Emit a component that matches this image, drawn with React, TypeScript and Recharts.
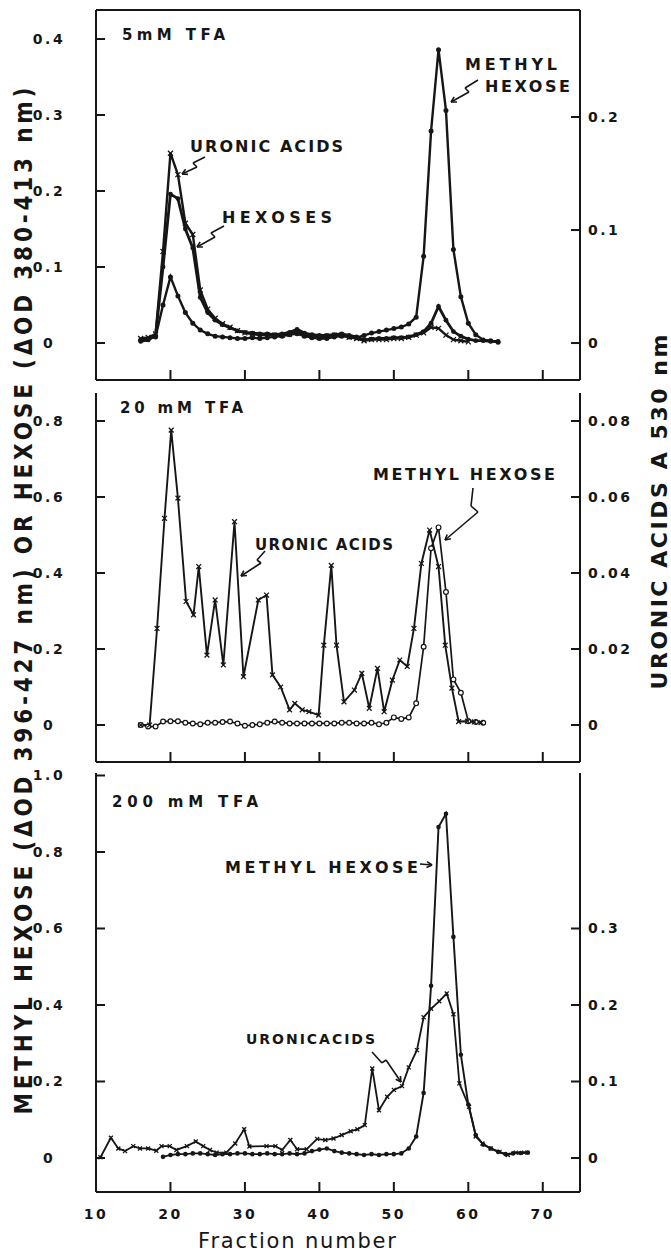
import React from 'react'
import { LineChart, Line, XAxis, YAxis, ReferenceLine } from 'recharts'

const INK = '#161616'
const FONT = '"DejaVu Sans", "Liberation Sans", sans-serif'
const FONT_COND = '"DejaVu Sans Condensed", "DejaVu Sans", sans-serif'

// shared fraction axis
const fractionDomain: [number, number] = [10, 75]
const fractionTicks = [20, 30, 40, 50, 60, 70]
const fractionTicksLabelled = [10, 20, 30, 40, 50, 60, 70]

// ---- panel 1 : 5 mM TFA (left: hexose OD, right: uronic acids A530)
const p1Fractions = [16, 17, 18, 19, 20, 21, 22, 23, 24, 25, 26, 27, 28, 29, 30, 31, 32, 33, 34, 35, 36, 37, 38, 39, 40, 41, 42, 43, 44, 45, 46, 47, 48, 49, 50, 51, 52, 53, 54, 55, 56, 57, 58, 59, 60, 61, 62, 63, 64]
const p1MethylHexose = [0.004, 0.005, 0.008, 0.05, 0.087, 0.062, 0.04, 0.026, 0.017, 0.012, 0.009, 0.008, 0.007, 0.006, 0.006, 0.007, 0.006, 0.007, 0.008, 0.009, 0.011, 0.012, 0.009, 0.007, 0.006, 0.006, 0.008, 0.009, 0.008, 0.007, 0.01, 0.013, 0.015, 0.017, 0.019, 0.021, 0.025, 0.034, 0.114, 0.279, 0.386, 0.306, 0.123, 0.061, 0.026, 0.011, 0.004, 0.003, 0.001]
const p1Hexoses = [0.002, 0.004, 0.01, 0.1, 0.196, 0.19, 0.15, 0.125, 0.06, 0.04, 0.03, 0.024, 0.02, 0.016, 0.014, 0.013, 0.012, 0.012, 0.011, 0.012, 0.014, 0.018, 0.013, 0.011, 0.01, 0.01, 0.011, 0.012, 0.01, 0.008, 0.004, 0.005, 0.006, 0.006, 0.007, 0.007, 0.008, 0.011, 0.015, 0.026, 0.048, 0.03, 0.015, 0.009, 0.005, 0.003, 0.003, 0.002, 0.002]
const p1UronicFractions = [16, 17, 18, 19, 20, 21, 22, 23, 24, 25, 26, 27, 28, 29, 30, 31, 32, 33, 34, 35, 36, 37, 38, 39, 40, 41, 42, 43, 44, 45, 46, 47, 48, 49, 50, 51, 52, 53, 54, 55, 56, 57, 58, 59, 60]
const p1Uronic = [0.004, 0.005, 0.008, 0.081, 0.168, 0.149, 0.106, 0.096, 0.047, 0.03, 0.022, 0.017, 0.014, 0.011, 0.009, 0.008, 0.007, 0.007, 0.007, 0.007, 0.008, 0.01, 0.007, 0.006, 0.005, 0.006, 0.007, 0.007, 0.005, 0.004, 0.002, 0.003, 0.003, 0.003, 0.004, 0.004, 0.005, 0.007, 0.009, 0.014, 0.013, 0.007, 0.003, 0.002, 0.001]
const p1LeftTicks = [0, 0.1, 0.2, 0.3, 0.4]
const p1RightTicks = [0, 0.1, 0.2]

// ---- panel 2 : 20 mM TFA
const p2MhFractions = [16, 17, 18, 19, 20, 21, 22, 23, 24, 25, 26, 27, 28, 29, 30, 31, 32, 33, 34, 35, 36, 37, 38, 39, 40, 41, 42, 43, 44, 45, 46, 47, 48, 49, 50, 51, 52, 53, 54, 55, 56, 57, 58, 59, 60, 61, 62]
const p2MethylHexose = [0, -0.004, -0.004, 0.009, 0.01, 0.01, 0.006, 0.004, 0.002, 0.006, 0.006, 0.008, 0.009, 0.004, -0.002, 0, 0.002, 0.006, 0.009, 0.006, 0.004, 0.004, 0.004, 0.004, 0.004, 0.004, 0.004, 0.006, 0.006, 0.004, 0.004, 0.006, 0.002, 0.006, 0.02, 0.016, 0.02, 0.057, 0.206, 0.465, 0.52, 0.35, 0.12, 0.085, 0.01, 0.008, 0.006]
const p2UronicFractions = [16.0, 17.2, 18.2, 19.2, 20.1, 21.0, 22.1, 23.1, 23.8, 24.9, 26.0, 27.1, 28.6, 29.8, 31.8, 32.9, 33.7, 34.8, 36.0, 36.7, 37.7, 38.6, 39.9, 40.6, 41.6, 42.3, 43.3, 44.7, 45.7, 46.7, 47.8, 48.7, 49.8, 50.8, 51.8, 52.7, 53.7, 54.8, 56.0, 56.9, 57.8, 58.7, 59.9, 60.8, 61.7]
const p2Uronic = [0, 0, 0.0254, 0.0544, 0.0776, 0.0597, 0.0325, 0.029, 0.0417, 0.0184, 0.0329, 0.0158, 0.0535, 0.0127, 0.0329, 0.0342, 0.0132, 0.01, 0.004, 0.0057, 0.004, 0.0035, 0.0026, 0.021, 0.042, 0.021, 0.0061, 0.0092, 0.0136, 0.0044, 0.0149, 0.0035, 0.0118, 0.0171, 0.0154, 0.0254, 0.0425, 0.0513, 0.0417, 0.021, 0.0097, 0.0009, 0.001, 0.0008, 0.0006]
const p2LeftTicks = [0, 0.2, 0.4, 0.6, 0.8]
const p2RightTicks = [0, 0.02, 0.04, 0.06, 0.08]

// ---- panel 3 : 200 mM TFA
const p3MhFractions = [19, 20, 21, 22, 23, 24, 25, 26, 27, 28, 29, 30, 31, 32, 33, 34, 35, 36, 37, 38, 39, 40, 41, 42, 43, 44, 45, 46, 47, 48, 49, 50, 51, 52, 53, 54, 55, 56, 57, 58, 59, 60, 61, 62, 63, 64, 65, 66, 67, 68]
const p3MethylHexose = [0.003, 0.008, 0.01, 0.01, 0.012, 0.012, 0.01, 0.008, 0.01, 0.01, 0.012, 0.012, 0.01, 0.01, 0.012, 0.01, 0.01, 0.012, 0.01, 0.012, 0.018, 0.022, 0.025, 0.018, 0.014, 0.012, 0.01, 0.008, 0.01, 0.008, 0.01, 0.01, 0.012, 0.025, 0.056, 0.17, 0.45, 0.865, 0.9, 0.578, 0.27, 0.14, 0.06, 0.035, 0.025, 0.016, 0.01, 0.012, 0.013, 0.014]
const p3UronicFractions = [10.6, 12.0, 13.0, 13.9, 15.0, 15.9, 17.0, 18.1, 18.8, 19.9, 20.8, 22.2, 23.4, 24.4, 25.3, 26.2, 27.5, 28.7, 29.9, 30.6, 32.9, 34.1, 35.0, 36.1, 37.0, 38.3, 39.7, 40.8, 41.9, 43.0, 44.2, 45.1, 46.1, 47.1, 48.0, 49.1, 50.0, 51.1, 52.0, 53.1, 54.0, 55.0, 56.1, 57.1, 58.0, 58.8, 60.1, 61.0, 61.9, 63.0, 64.2, 65.3, 66.4, 67.5]
const p3Uronic = [0.001, 0.0265, 0.0125, 0.009, 0.0155, 0.0125, 0.0125, 0.0095, 0.0155, 0.0155, 0.0105, 0.0155, 0.0215, 0.0155, 0.0105, 0.007, 0.007, 0.019, 0.0375, 0.015, 0.0155, 0.0155, 0.0105, 0.0235, 0.0115, 0.0115, 0.025, 0.0235, 0.0255, 0.03, 0.035, 0.0375, 0.043, 0.117, 0.0625, 0.08, 0.089, 0.094, 0.1185, 0.141, 0.184, 0.195, 0.205, 0.215, 0.188, 0.0975, 0.067, 0.028, 0.019, 0.0125, 0.008, 0.004, 0.007, 0.007]
const p3LeftTicks = [0, 0.2, 0.4, 0.6, 0.8, 1.0]
const p3RightTicks = [0, 0.1, 0.2, 0.3]

// annotation leader lines, in data units of each panel's left axis
type Pt = [number, number]
const p1UronicArrow: Pt[] = [[24.64, 0.2447], [23.03, 0.2368], [23.56, 0.2316], [21.55, 0.2224]]
const p1HexoseArrow: Pt[] = [[27.19, 0.1539], [25.44, 0.1447], [25.98, 0.1395], [23.56, 0.1263]]
const p1MethylArrow: Pt[] = [[61.3, 0.3461], [59.56, 0.3355], [60.09, 0.3303], [57.68, 0.3171]]
const p2MethylArrow: Pt[] = [[60.63, 0.6237], [60.36, 0.5763], [61.3, 0.5605], [56.87, 0.4868]]
const p2UronicArrow: Pt[] = [[32.7, 0.4579], [31.62, 0.4342], [32.16, 0.4263], [29.47, 0.3921]]
const p3MethylArrow: Pt[] = [[53.51, 0.7686], [55.13, 0.766]]
const p3UronicArrow: Pt[] = [[47.07, 0.2771], [48.41, 0.2484], [48.95, 0.2562], [50.96, 0.1987]]

const zip = (xs: number[], ys: number[]) => xs.map((x, i) => ({ x, y: ys[i] }))

// pixels per data unit, used only to give arrow heads a fixed size
const PX_X = 484 / 65

function arrowSegments(pts: Pt[], pxY: number, head = 6) {
  const segs: { x: number; y: number }[][] = []
  for (let i = 0; i < pts.length - 1; i++) {
    segs.push([{ x: pts[i][0], y: pts[i][1] }, { x: pts[i + 1][0], y: pts[i + 1][1] }])
  }
  const [ax, ay] = pts[pts.length - 2]
  const [bx, by] = pts[pts.length - 1]
  const dx = (bx - ax) * PX_X
  const dy = -(by - ay) * pxY
  const len = Math.hypot(dx, dy)
  const ux = dx / len
  const uy = dy / len
  for (const s of [1, -1]) {
    const a = 0.5 * s
    const hx = ux * Math.cos(a) - uy * Math.sin(a)
    const hy = ux * Math.sin(a) + uy * Math.cos(a)
    segs.push([{ x: bx, y: by }, { x: bx - (hx * head) / PX_X, y: by + (hy * head) / pxY }])
  }
  return segs
}

function arrow(pts: Pt[], pxY: number, id: string) {
  return arrowSegments(pts, pxY).map((seg, i) => (
    <ReferenceLine
      key={`${id}-${i}`}
      yAxisId="left"
      segment={seg}
      stroke={INK}
      strokeWidth={1.6}
      ifOverflow="visible"
    />
  ))
}

// markers
const filledDot = (r: number) => (p: any) => (
  <circle key={`f-${p.index}`} cx={p.cx} cy={p.cy} r={r} fill={INK} stroke="none" />
)
const openDot = (r: number) => (p: any) => (
  <circle key={`o-${p.index}`} cx={p.cx} cy={p.cy} r={r} fill="#fff" stroke={INK} strokeWidth={1.2} />
)
const crossDot = (s: number) => (p: any) => (
  <path
    key={`x-${p.index}`}
    d={`M${p.cx - s},${p.cy - s}L${p.cx + s},${p.cy + s}M${p.cx - s},${p.cy + s}L${p.cx + s},${p.cy - s}`}
    stroke={INK}
    strokeWidth={1.3}
    fill="none"
  />
)

const tickText = {
  fontFamily: FONT,
  fontWeight: 700,
  fontSize: 14,
  fill: INK,
}

const fmt = (v: number, digits: number) => (v === 0 ? '0' : v.toFixed(digits))

function LeftTick(props: any) {
  const { x, y, payload, digits } = props
  return (
    <g>
      <line x1={x} y1={y} x2={x + 9} y2={y} stroke={INK} strokeWidth={2} />
      <text x={x - 47} y={y} dy={5} textAnchor="middle" letterSpacing={2.5} {...tickText}>
        {fmt(payload.value, digits)}
      </text>
    </g>
  )
}

function RightTick(props: any) {
  const { x, y, payload, digits } = props
  return (
    <g>
      <line x1={x} y1={y} x2={x - 9} y2={y} stroke={INK} strokeWidth={2} />
      <text x={x + 8} y={y} dy={5} textAnchor="start" letterSpacing={2.5} {...tickText}>
        {fmt(payload.value, digits)}
      </text>
    </g>
  )
}

function BottomTick(props: any) {
  const { x, y, payload, labels } = props
  return (
    <g>
      {payload.value !== 10 && <line x1={x} y1={y} x2={x} y2={y - 10} stroke={INK} strokeWidth={2} />}
      {labels && (
        <text x={x} y={y} dy={27} textAnchor="middle" letterSpacing={2.5} {...tickText}>
          {payload.value}
        </text>
      )}
    </g>
  )
}

interface PanelProps {
  top: number
  height: number
  axisHeight: number
  leftDomain: [number, number]
  rightDomain: [number, number]
  leftTicks: number[]
  rightTicks: number[]
  rightDigits: number
  xLabels?: boolean
  children: React.ReactNode
}

function Panel({ top, height, axisHeight, leftDomain, rightDomain, leftTicks, rightTicks, rightDigits, xLabels, children }: PanelProps) {
  const axisLine = { stroke: INK, strokeWidth: 2 }
  return (
    <div style={{ position: 'absolute', left: 0, top }}>
      <LineChart width={671} height={height} margin={{ top: 10, right: 0, bottom: 0, left: 0 }}>
        <XAxis
          type="number"
          dataKey="x"
          domain={fractionDomain}
          allowDataOverflow
          ticks={xLabels ? fractionTicksLabelled : fractionTicks}
          interval={0}
          tickSize={0}
          tickMargin={0}
          tickLine={false}
          axisLine={axisLine}
          height={axisHeight}
          tick={(p: any) => <BottomTick {...p} labels={!!xLabels} />}
        />
        <YAxis
          yAxisId="left"
          type="number"
          domain={leftDomain}
          allowDataOverflow
          ticks={leftTicks}
          interval={0}
          width={96}
          tickSize={0}
          tickMargin={0}
          tickLine={false}
          axisLine={axisLine}
          tick={(p: any) => <LeftTick {...p} digits={1} />}
        />
        <YAxis
          yAxisId="right"
          orientation="right"
          type="number"
          domain={rightDomain}
          allowDataOverflow
          ticks={rightTicks}
          interval={0}
          width={91}
          tickSize={0}
          tickMargin={0}
          tickLine={false}
          axisLine={axisLine}
          tick={(p: any) => <RightTick {...p} digits={rightDigits} />}
        />
        {children}
      </LineChart>
    </div>
  )
}

const labelStyle = {
  fontFamily: FONT,
  fontWeight: 700,
  fill: INK,
}

export default function App() {
  const p1Left: [number, number] = [-0.0487, 0.4382]
  const p1Right: [number, number] = [-0.0327, 0.2947]
  const p2Left: [number, number] = [-0.0974, 0.8737]
  const p2Right: [number, number] = [-0.00974, 0.08737]
  const p3Left: [number, number] = [-0.0889, 1.0065]
  const p3Right: [number, number] = [-0.04445, 0.50327]

  return (
    <div style={{ position: 'absolute', left: 0, top: 0, width: 671, height: 1256, background: '#fff' }}>
      <Panel top={0} height={382} axisHeight={2} leftDomain={p1Left} rightDomain={p1Right} leftTicks={p1LeftTicks} rightTicks={p1RightTicks} rightDigits={1}>
        <ReferenceLine yAxisId="left" y={p1Left[1]} stroke={INK} strokeWidth={2} ifOverflow="visible" />
        <Line yAxisId="left" data={zip(p1Fractions, p1MethylHexose)} dataKey="y" type="linear" stroke={INK} strokeWidth={2.4} dot={filledDot(2.5)} isAnimationActive={false} />
        <Line yAxisId="left" data={zip(p1Fractions, p1Hexoses)} dataKey="y" type="linear" stroke={INK} strokeWidth={2.8} dot={filledDot(2.4)} isAnimationActive={false} />
        <Line yAxisId="right" data={zip(p1UronicFractions, p1Uronic)} dataKey="y" type="linear" stroke={INK} strokeWidth={2.4} dot={crossDot(2.5)} isAnimationActive={false} />
        {arrow(p1UronicArrow, 760, 'a1')}
        {arrow(p1HexoseArrow, 760, 'a2')}
        {arrow(p1MethylArrow, 760, 'a3')}
      </Panel>

      <Panel top={383} height={381} axisHeight={2} leftDomain={p2Left} rightDomain={p2Right} leftTicks={p2LeftTicks} rightTicks={p2RightTicks} rightDigits={2}>
        <Line yAxisId="left" data={zip(p2MhFractions, p2MethylHexose)} dataKey="y" type="linear" stroke={INK} strokeWidth={1.7} dot={openDot(2.4)} isAnimationActive={false} />
        <Line yAxisId="right" data={zip(p2UronicFractions, p2Uronic)} dataKey="y" type="linear" stroke={INK} strokeWidth={1.9} dot={crossDot(2.4)} isAnimationActive={false} />
        {arrow(p2MethylArrow, 380, 'b1')}
        {arrow(p2UronicArrow, 380, 'b2')}
      </Panel>

      <Panel top={763} height={469} axisHeight={40} leftDomain={p3Left} rightDomain={p3Right} leftTicks={p3LeftTicks} rightTicks={p3RightTicks} rightDigits={1} xLabels>
        <Line yAxisId="left" data={zip(p3MhFractions, p3MethylHexose)} dataKey="y" type="linear" stroke={INK} strokeWidth={1.9} dot={filledDot(2.3)} isAnimationActive={false} />
        <Line yAxisId="right" data={zip(p3UronicFractions, p3Uronic)} dataKey="y" type="linear" stroke={INK} strokeWidth={1.8} dot={crossDot(2)} isAnimationActive={false} />
        {arrow(p3MethylArrow, 382.5, 'c1')}
        {arrow(p3UronicArrow, 382.5, 'c2')}
      </Panel>

      <svg width={671} height={1256} style={{ position: 'absolute', left: 0, top: 0, pointerEvents: 'none' }}>
        {/* axis titles */}
        <text transform="translate(32,601) rotate(-90)" textAnchor="middle" fontFamily={FONT_COND} fontWeight={700} fontSize={24} fill={INK} textLength={1027} lengthAdjust="spacing">
          METHYL HEXOSE (ΔOD 396-427 nm) OR HEXOSE (ΔOD 380-413 nm)
        </text>
        <text transform="translate(667,512) rotate(-90)" textAnchor="middle" fontSize={22} textLength={355} lengthAdjust="spacing" {...labelStyle}>
          URONIC ACIDS A 530 nm
        </text>
        <text x={297} y={1248} textAnchor="middle" fontFamily={FONT} fontSize={21} fill={INK} textLength={198} lengthAdjust="spacing">
          Fraction number
        </text>

        {/* panel titles */}
        <text x={122} y={40} fontSize={15} textLength={103} lengthAdjust="spacing" {...labelStyle}>5mM TFA</text>
        <text x={120} y={413} fontSize={15} textLength={123} lengthAdjust="spacing" {...labelStyle}>20 mM TFA</text>
        <text x={112} y={807} fontSize={15} textLength={146} lengthAdjust="spacing" {...labelStyle}>200 mM TFA</text>

        {/* curve annotations */}
        <text x={190} y={152} fontSize={16} textLength={153} lengthAdjust="spacing" {...labelStyle}>URONIC ACIDS</text>
        <text x={222} y={223} fontSize={16} textLength={110} lengthAdjust="spacing" {...labelStyle}>HEXOSES</text>
        <text x={465} y={70} fontSize={16} textLength={92} lengthAdjust="spacing" {...labelStyle}>METHYL</text>
        <text x={485} y={92} fontSize={16} textLength={85} lengthAdjust="spacing" {...labelStyle}>HEXOSE</text>
        <text x={373} y={480} fontSize={16} textLength={182} lengthAdjust="spacing" {...labelStyle}>METHYL HEXOSE</text>
        <text x={255} y={550} fontSize={15} textLength={138} lengthAdjust="spacing" {...labelStyle}>URONIC ACIDS</text>
        <text x={225} y={873} fontSize={16} textLength={193} lengthAdjust="spacing" {...labelStyle}>METHYL HEXOSE</text>
        <text x={246} y={1044} fontSize={14} textLength={129} lengthAdjust="spacing" {...labelStyle}>URONICACIDS</text>
      </svg>
    </div>
  )
}
